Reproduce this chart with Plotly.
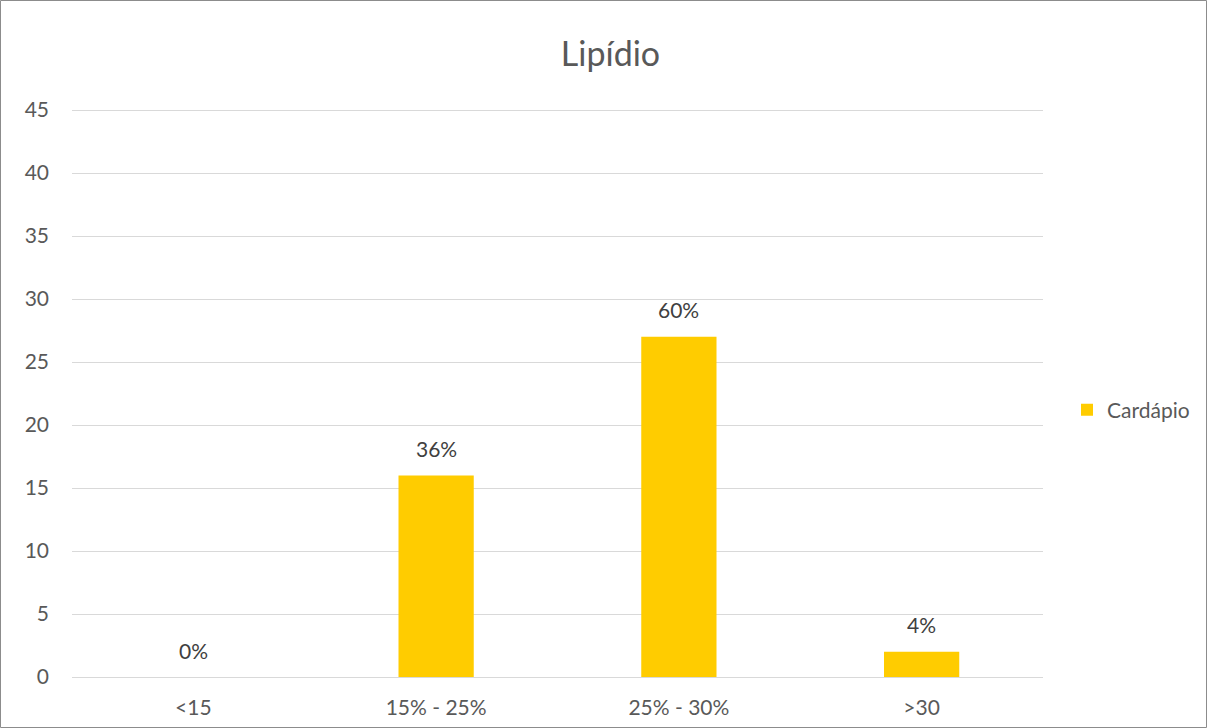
import plotly.graph_objects as go

categories = ["<15", "15% - 25%", "25% - 30%", ">30"]
values = [0, 16, 27, 2]
labels = ["0%", "36%", "60%", "4%"]
y_ticks = [0, 5, 10, 15, 20, 25, 30, 35, 40, 45]

W, H = 1207, 728
ML, MR, MT, MB = 72, 164, 108, 51
pw, ph = W - ML - MR, H - MT - MB
y_top = ph / 12.6  # a little headroom so the 45 gridline is drawn

fig = go.Figure()
fig.add_trace(go.Bar(
    x=categories, y=values, name="Cardápio",
    marker=dict(color="#FFCC00", line=dict(width=0)),
    width=0.31,
))

for c, v, t in zip(categories, values, labels):
    fig.add_annotation(x=c, y=v, text=t, showarrow=False, yshift=27,
                       font=dict(size=21, color="#404040"))

# outer chart border
fig.add_shape(type="rect", xref="paper", yref="paper",
              x0=(0.5 - ML) / pw, x1=(W - 0.5 - ML) / pw,
              y0=-(MB - 0.5) / ph, y1=(H - MB - 0.5) / ph,
              line=dict(color="#8c8c8c", width=1), fillcolor="rgba(0,0,0,0)", layer="above")

fig.update_layout(
    width=W, height=H,
    margin=dict(l=ML, r=MR, t=MT, b=MB, autoexpand=False),
    paper_bgcolor="white", plot_bgcolor="white",
    font=dict(family="Lato, Open Sans, sans-serif", color="#595959", size=21),
    title=dict(text="Lipídio", x=0.5 + 7 / W, xref="container", xanchor="center",
               y=1 - 54 / H, yanchor="middle", yref="container",
               font=dict(size=34, color="#595959")),
    showlegend=True,
    legend=dict(x=(1067 - ML) / pw, y=(H - MB - 410) / ph, xanchor="left", yanchor="middle",
                font=dict(size=21, color="#595959"), itemwidth=30),
    bargap=0.69,
    xaxis=dict(showgrid=False, showline=False, ticks="", tickfont=dict(size=21),
               ticklabelstandoff=16, automargin=False),
    yaxis=dict(range=[0, y_top], tickvals=y_ticks, showgrid=True, gridcolor="#d9d9d9",
               gridwidth=1, zeroline=True, zerolinecolor="#d9d9d9", zerolinewidth=1,
               showline=False, ticks="", ticklabelstandoff=22, tickfont=dict(size=21),
               automargin=False),
)

fig.write_html("out.html")
